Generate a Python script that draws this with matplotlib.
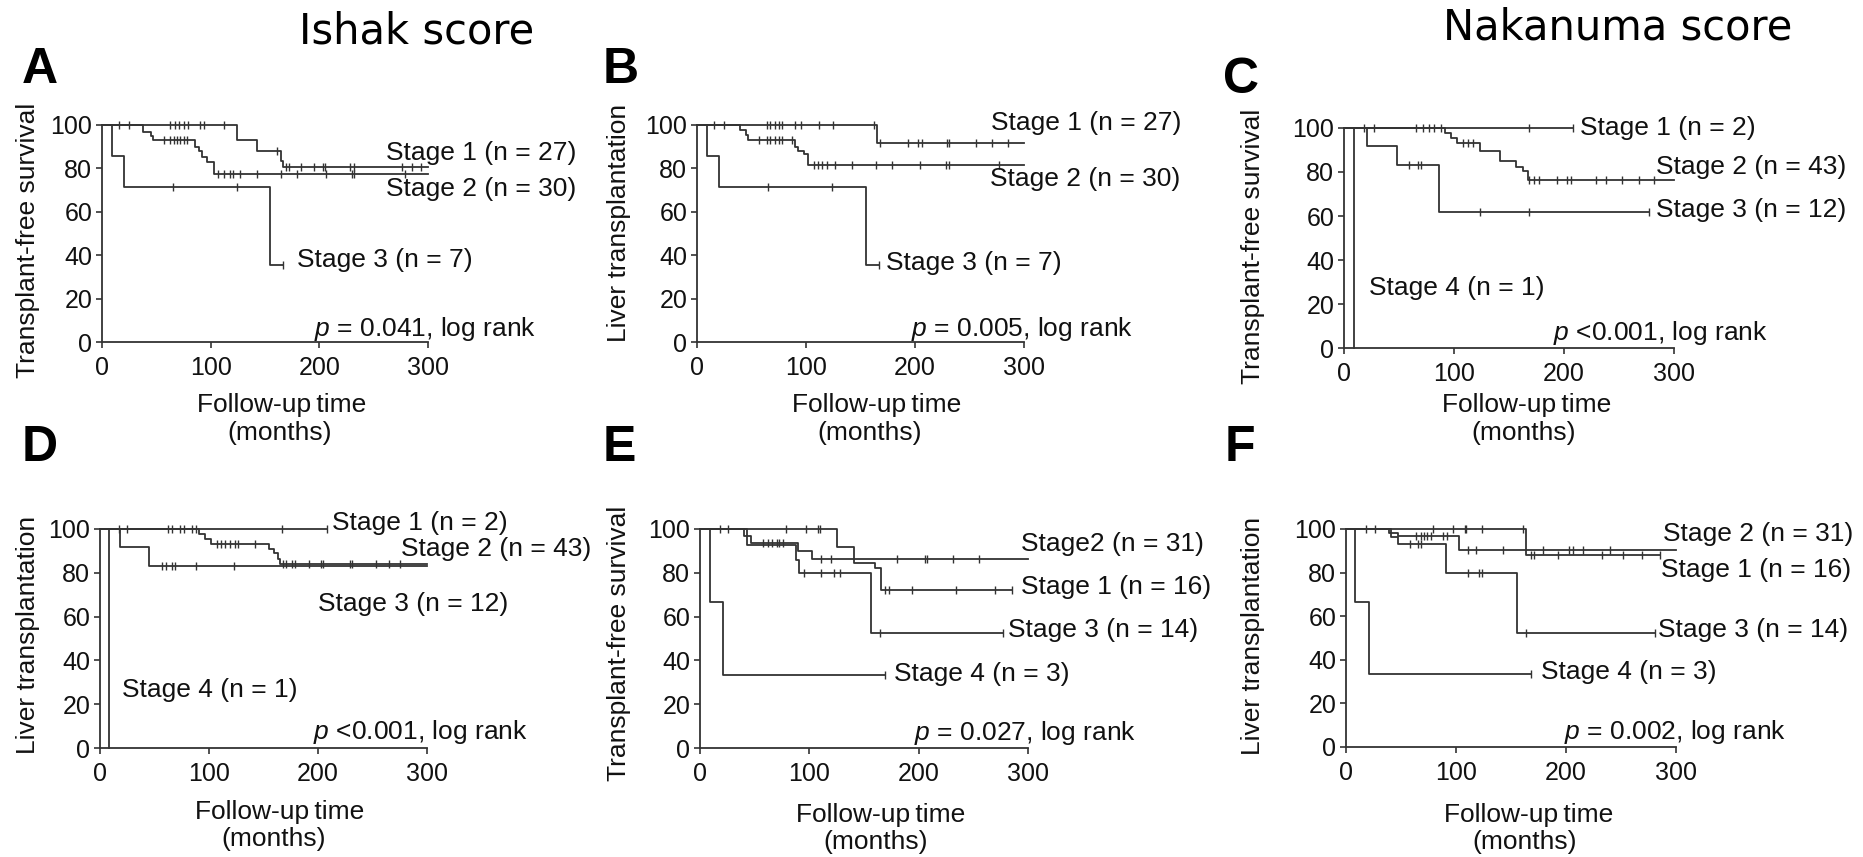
import numpy as np
import matplotlib.pyplot as plt

plt.rcParams['font.family'] = ['Liberation Sans', 'DejaVu Sans']
plt.rcParams['mathtext.fontset'] = 'custom'
plt.rcParams['mathtext.it'] = 'Liberation Sans:italic'
plt.rcParams['mathtext.rm'] = 'Liberation Sans'

# Kaplan-Meier curves: event times (months), survival (%) after each event,
# last follow-up time, censored times

# A - Ishak score, transplant-free survival
a1_t = [124, 143, 165, 167]
a1_v = [93.0, 88.0, 83.5, 80.8]
a1_end = 300
a1_c = [16, 25, 63, 67, 71, 75, 79, 90, 94, 112, 161, 169, 172, 183, 195,
        203, 205, 228, 232, 276, 285, 294]
a2_t = [38, 45, 47, 86, 89, 92, 97, 103]
a2_v = [97.0, 95.0, 93.1, 90.0, 88.0, 85.4, 83.1, 77.5]
a2_end = 300
a2_c = [57, 63, 66, 69, 72, 75, 78, 107, 112, 118, 121, 127, 143, 165, 179,
        206, 230, 232, 279]
a3_t = [9, 20, 155]
a3_v = [85.7, 71.4, 35.7]
a3_end = 167
a3_c = [65, 124, 167]

# B - Ishak score, liver transplantation
b1_t = [165]
b1_v = [91.8]
b1_end = 300
b1_c = [16, 25, 64, 67, 72, 75, 78, 90, 95, 112, 125, 162, 168, 194, 203,
        206, 229, 231, 256, 271, 285]
b2_t = [39, 45, 47, 90, 93, 98, 102]
b2_v = [97.7, 95.4, 93.1, 90.0, 88.0, 86.6, 81.5]
b2_end = 300
b2_c = [57, 64, 67, 72, 75, 78, 87, 107, 111, 115, 119, 127, 142, 164, 179,
        205, 228, 231, 277]
b3_t = [9, 20, 155]
b3_v = [85.7, 71.4, 35.7]
b3_end = 167
b3_c = [65, 124, 167]

# C - Nakanuma score, transplant-free survival
c1_t = []
c1_v = []
c1_end = 208
c1_c = [168, 208]
c2_t = [92, 97, 103, 124, 142, 156, 163, 167]
c2_v = [97.7, 95.4, 93.0, 89.7, 85.0, 82.3, 80.5, 76.2]
c2_end = 300
c2_c = [18, 27, 65, 72, 77, 82, 88, 108, 113, 117, 168, 173, 177, 194, 203,
        206, 229, 238, 253, 268, 282]
c3_t = [21, 48, 86]
c3_v = [91.7, 83.3, 62.0]
c3_end = 277
c3_c = [59, 67, 70, 124, 168, 277]
c4_t = [9]
c4_v = [0.0]
c4_end = 9
c4_c = []

# D - Nakanuma score, liver transplantation
d1_t = []
d1_v = []
d1_end = 208
d1_c = [167, 208]
d2_t = [91, 96, 102, 155, 160, 163, 165]
d2_v = [97.7, 95.4, 93.0, 91.0, 89.0, 86.5, 84.0]
d2_end = 300
d2_c = [17, 25, 62, 66, 73, 77, 84, 88, 107, 111, 115, 119, 124, 127, 142,
        168, 171, 176, 179, 192, 203, 205, 229, 231, 253, 265, 275]
d3_t = [18, 45]
d3_v = [91.7, 83.3]
d3_end = 300
d3_c = [57, 61, 66, 69, 88, 123]
d4_t = [8]
d4_v = [0.0]
d4_end = 8
d4_c = []

# E - transplant-free survival, 4 stages
e1_t = [125, 141, 160, 166]
e1_v = [91.7, 84.6, 82.0, 72.0]
e1_end = 285
e1_c = [18, 26, 79, 97, 108, 110, 169, 173, 194, 234, 270, 285]
e2_t = [40, 47, 90, 102]
e2_v = [96.8, 93.5, 90.0, 86.2]
e2_end = 300
e2_c = [58, 62, 66, 70, 72, 76, 111, 120, 180, 206, 208, 231, 255]
e3_t = [43, 88, 91, 156]
e3_v = [92.9, 86.0, 79.7, 52.3]
e3_end = 277
e3_c = [95, 111, 123, 128, 165, 277]
e4_t = [9, 21]
e4_v = [66.7, 33.3]
e4_end = 169
e4_c = [169]

# F - liver transplantation, 4 stages
f1_t = [164]
f1_v = [88.2]
f1_end = 285
f1_c = [18, 26, 79, 97, 108, 109, 124, 161, 168, 171, 193, 233, 252, 269, 285]
f2_t = [39, 47, 103]
f2_v = [98.0, 96.6, 90.2]
f2_end = 300
f2_c = [64, 68, 71, 74, 77, 88, 92, 111, 118, 143, 179, 203, 206, 215, 240]
f3_t = [41, 47, 91, 155]
f3_v = [96.5, 93.2, 80.0, 52.3]
f3_end = 281
f3_c = [58, 65, 68, 111, 121, 124, 164, 281]
f4_t = [8.5, 21]
f4_v = [66.7, 33.3]
f4_end = 168
f4_c = [168]

W, H = 1863, 857
LC = '#333333'


def px(x, y):
    return x / W, 1 - y / H


def km(ax, t, v, end, cens):
    xs = [0] + list(t) + [end]
    ys = [100] + list(v) + [v[-1] if v else 100]
    ax.step(xs, ys, where='post', color=LC, lw=1.3, clip_on=False)
    if cens:
        tt = np.array(t, dtype=float)
        vv = np.array([100] + list(v), dtype=float)
        cy = vv[np.searchsorted(tt, np.array(cens, dtype=float), side='right')]
        ax.plot(cens, cy, ls='none', marker='|', ms=6, mew=1.0, color=LC,
                clip_on=False)


def make_axes(l, r, t, b):
    ax = fig.add_axes([l / W, 1 - b / H, (r - l) / W, (b - t) / H])
    ax.set_xlim(0, 300)
    ax.set_ylim(0, 100)
    ax.set_xticks([0, 100, 200, 300])
    ax.set_yticks([0, 20, 40, 60, 80, 100])
    for s in ['top', 'right']:
        ax.spines[s].set_visible(False)
    for s in ['left', 'bottom']:
        ax.spines[s].set_color(LC)
        ax.spines[s].set_linewidth(1.3)
    ax.tick_params(labelsize=18, length=4, width=1.2, color=LC,
                   labelcolor='#111111')
    ax.tick_params(axis='x', pad=6)
    ax.tick_params(axis='y', pad=3)
    return ax


fig = plt.figure(figsize=(W / 100, H / 100), dpi=100)

panels = [
    dict(box=(102, 428, 125, 342), ylab='Transplant-free survival', ylx=28, yly=240,
         xl=(282, 405, 280, 433), letter='A', lxy=(40, 70),
         curves=[(a1_t, a1_v, a1_end, a1_c), (a2_t, a2_v, a2_end, a2_c), (a3_t, a3_v, a3_end, a3_c)],
         labels=[('Stage 1 (n = 27)', 261, 87), ('Stage 2 (n = 30)', 261, 70.5),
                 ('Stage 3 (n = 7)', 179, 37.8)],
         p=('= 0.041, log rank', 195, 6)),
    dict(box=(697, 1024, 125, 342), ylab='Liver transplantation', ylx=619, yly=223,
         xl=(877, 405, 870, 433), letter='B', lxy=(621, 70),
         curves=[(b1_t, b1_v, b1_end, b1_c), (b2_t, b2_v, b2_end, b2_c), (b3_t, b3_v, b3_end, b3_c)],
         labels=[('Stage 1 (n = 27)', 270, 101), ('Stage 2 (n = 30)', 269, 75),
                 ('Stage 3 (n = 7)', 173, 36.6)],
         p=('= 0.005, log rank', 196, 6)),
    dict(box=(1344, 1674, 128, 348), ylab='Transplant-free survival', ylx=1253, yly=246,
         xl=(1527, 405, 1524, 433), letter='C', lxy=(1241, 80),
         curves=[(c1_t, c1_v, c1_end, c1_c), (c2_t, c2_v, c2_end, c2_c), (c3_t, c3_v, c3_end, c3_c),
                 (c4_t, c4_v, c4_end, c4_c)],
         labels=[('Stage 1 (n = 2)', 215, 100), ('Stage 2 (n = 43)', 284, 82.3),
                 ('Stage 3 (n = 12)', 284, 62.6), ('Stage 4 (n = 1)', 23, 27.4)],
         p=('<0.001, log rank', 190, 6.7)),
    dict(box=(100, 427, 529, 748), ylab='Liver transplantation', ylx=28, yly=635,
         xl=(280, 812, 274, 839), letter='D', lxy=(40, 448),
         curves=[(d1_t, d1_v, d1_end, d1_c), (d2_t, d2_v, d2_end, d2_c), (d3_t, d3_v, d3_end, d3_c),
                 (d4_t, d4_v, d4_end, d4_c)],
         labels=[('Stage 1 (n = 2)', 213, 102.6), ('Stage 2 (n = 43)', 276.5, 90.9),
                 ('Stage 3 (n = 12)', 200, 65.8), ('Stage 4 (n = 1)', 20, 26.6)],
         p=('<0.001, log rank', 195, 7.2)),
    dict(box=(700, 1028, 529, 748), ylab='Transplant-free survival', ylx=619, yly=643,
         xl=(881, 815, 876, 842), letter='E', lxy=(619, 448),
         curves=[(e1_t, e1_v, e1_end, e1_c), (e2_t, e2_v, e2_end, e2_c), (e3_t, e3_v, e3_end, e3_c),
                 (e4_t, e4_v, e4_end, e4_c)],
         labels=[('Stage2 (n = 31)', 294, 93.2), ('Stage 1 (n = 16)', 294, 73.3),
                 ('Stage 3 (n = 14)', 282, 54), ('Stage 4 (n = 3)', 177, 33.8)],
         p=('= 0.027, log rank', 196, 7)),
    dict(box=(1346, 1676, 529, 747), ylab='Liver transplantation', ylx=1253, yly=636,
         xl=(1529, 815, 1525, 842), letter='F', lxy=(1240, 448),
         curves=[(f1_t, f1_v, f1_end, f1_c), (f2_t, f2_v, f2_end, f2_c), (f3_t, f3_v, f3_end, f3_c),
                 (f4_t, f4_v, f4_end, f4_c)],
         labels=[('Stage 2 (n = 31)', 288.5, 97.7), ('Stage 1 (n = 16)', 286.5, 81.2),
                 ('Stage 3 (n = 14)', 283.5, 53.7), ('Stage 4 (n = 3)', 177, 34.3)],
         p=('= 0.002, log rank', 198, 6.8)),
]

for p in panels:
    ax = make_axes(*p['box'])
    for c in p['curves']:
        km(ax, *c)
    for txt, x, y in p['labels']:
        ax.text(x, y, txt, fontsize=19, va='center', ha='left', color='#111111',
                clip_on=False)
    ptxt, x, y = p['p']
    ax.text(x, y, r'$\it{p}$ ' + ptxt, fontsize=19, va='center', ha='left',
            color='#111111')
    fig.text(*px(p['ylx'], p['yly']), p['ylab'], rotation=90, fontsize=19,
             ha='center', va='center', color='#111111')
    x1, y1, x2, y2 = p['xl']
    fig.text(*px(x1, y1), 'Follow-up\u2009time', fontsize=19, ha='center',
             va='center', color='#111111')
    fig.text(*px(x2, y2), '(months)', fontsize=19, ha='center', va='center',
             color='#111111')
    fig.text(*px(*p['lxy']), p['letter'], fontsize=36, fontweight='bold',
             ha='center', va='center', color='black')

fig.text(*px(417, 32), 'Ishak score', fontsize=30, family='DejaVu Sans',
         ha='center', va='center')
fig.text(*px(1618, 28), 'Nakanuma score', fontsize=30, family='DejaVu Sans',
         ha='center', va='center')

fig.savefig('out.png', dpi=100)
